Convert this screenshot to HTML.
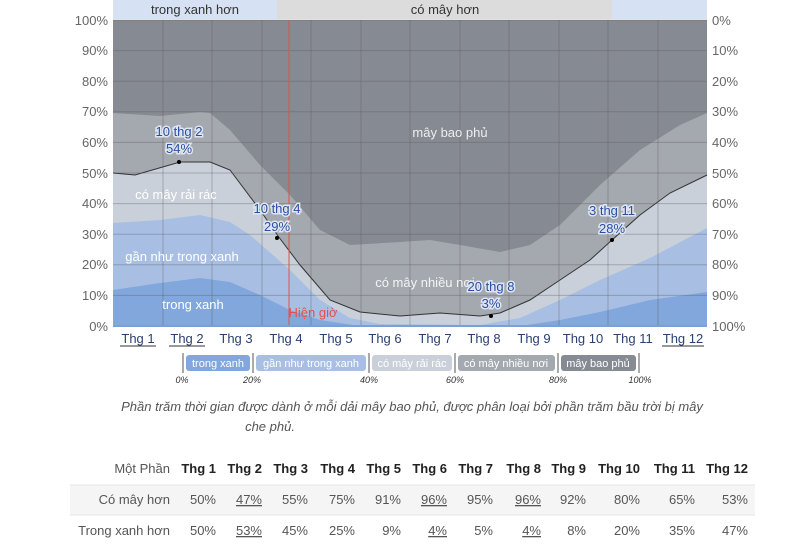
<!DOCTYPE html>
<html><head><meta charset="utf-8"><style>
body{margin:0;background:#fff;width:800px;height:550px;overflow:hidden}
text{font-family:"Liberation Sans",sans-serif}
</style></head><body>
<svg width="800" height="550" viewBox="0 0 800 550" xmlns="http://www.w3.org/2000/svg">
<!-- top band -->
<rect x="113" y="0" width="164" height="19" fill="#d6e2f3"/>
<rect x="277" y="0" width="335" height="19" fill="#dcdcdc"/>
<rect x="612" y="0" width="95" height="19" fill="#d6e2f3"/>
<text x="195" y="14" font-size="13" text-anchor="middle" fill="#333">trong xanh hơn</text>
<text x="445" y="14" font-size="13" text-anchor="middle" fill="#333">có mây hơn</text>
<!-- layers -->
<rect x="113" y="20" width="594" height="306" fill="#868a92"/>
<polygon fill="#a4a8af" points="113,113 160,116 200,112 210,113 230,130 260,165 290,195 320,230 350,245 400,242 430,240 460,245 500,252 530,245 560,225 600,185 640,150 680,125 707,113 707,326 113,326"/>
<polygon fill="#c9d0da" points="113,173 135,175 180,162 210,162 230,170 260,210 278,236 300,265 330,300 360,312 400,316 440,313 480,316 500,313 530,300 560,280 590,260 612,240 640,215 670,193 707,175 707,326 113,326"/>
<polygon fill="#a8bfe3" points="113,223 160,220 200,215 230,222 250,235 290,270 320,300 350,318 380,324 480,325 520,318 560,300 600,280 650,258 707,228 707,326 113,326"/>
<polygon fill="#82a7dc" points="113,290 160,283 200,278 230,282 260,295 290,310 320,320 360,326 520,326 560,320 600,312 650,300 707,292 707,326 113,326"/>
<polyline fill="none" stroke="#333" stroke-width="1" points="113,173 135,175 180,162 210,162 230,170 260,210 278,236 300,265 330,300 360,312 400,316 440,313 480,316 500,313 530,300 560,280 590,260 612,240 640,215 670,193 707,175"/>
<!-- grid -->
<g stroke="#555" stroke-opacity="0.35" stroke-width="1">
<line x1="113" y1="20" x2="707" y2="20"/><line x1="113" y1="50.6" x2="707" y2="50.6"/><line x1="113" y1="81.2" x2="707" y2="81.2"/><line x1="113" y1="111.8" x2="707" y2="111.8"/><line x1="113" y1="142.4" x2="707" y2="142.4"/><line x1="113" y1="173" x2="707" y2="173"/><line x1="113" y1="203.6" x2="707" y2="203.6"/><line x1="113" y1="234.2" x2="707" y2="234.2"/><line x1="113" y1="264.8" x2="707" y2="264.8"/><line x1="113" y1="295.4" x2="707" y2="295.4"/>
<line x1="163" y1="20" x2="163" y2="326"/><line x1="212" y1="20" x2="212" y2="326"/><line x1="262" y1="20" x2="262" y2="326"/><line x1="311" y1="20" x2="311" y2="326"/><line x1="361" y1="20" x2="361" y2="326"/><line x1="410" y1="20" x2="410" y2="326"/><line x1="460" y1="20" x2="460" y2="326"/><line x1="509" y1="20" x2="509" y2="326"/><line x1="559" y1="20" x2="559" y2="326"/><line x1="608" y1="20" x2="608" y2="326"/><line x1="658" y1="20" x2="658" y2="326"/>
</g>
<line x1="289" y1="20" x2="289" y2="326" stroke="#e05050" stroke-width="1"/>
<line x1="113" y1="326" x2="707" y2="326" stroke="#7aa0d8" stroke-width="2"/>
<!-- y labels -->
<g font-size="13" fill="#666" text-anchor="end">
<text x="108" y="25">100%</text><text x="108" y="55">90%</text><text x="108" y="86">80%</text><text x="108" y="116">70%</text><text x="108" y="147">60%</text><text x="108" y="178">50%</text><text x="108" y="208">40%</text><text x="108" y="239">30%</text><text x="108" y="269">20%</text><text x="108" y="300">10%</text><text x="108" y="331">0%</text>
</g>
<g font-size="13" fill="#666">
<text x="712" y="25">0%</text><text x="712" y="55">10%</text><text x="712" y="86">20%</text><text x="712" y="116">30%</text><text x="712" y="147">40%</text><text x="712" y="178">50%</text><text x="712" y="208">60%</text><text x="712" y="239">70%</text><text x="712" y="269">80%</text><text x="712" y="300">90%</text><text x="712" y="331">100%</text>
</g>
<!-- region labels -->
<g font-size="13" fill="#fff" text-anchor="middle">
<text x="450" y="137" fill="#eee">mây bao phủ</text>
<text x="176" y="199">có mây rải rác</text>
<text x="182" y="261">gần như trong xanh</text>
<text x="193" y="309">trong xanh</text>
<text x="425" y="287" fill="#f4f4f4">có mây nhiều nơi</text>
</g>
<text x="313" y="317" font-size="13" fill="#e05050" text-anchor="middle">Hiện giờ</text>
<!-- annotations -->
<g font-size="13" fill="#2a4fa0" text-anchor="middle" stroke="#dfe6f2" stroke-width="3" paint-order="stroke">
<text x="179" y="136">10 thg 2</text><text x="179" y="153">54%</text>
<text x="277" y="213">10 thg 4</text><text x="277" y="231">29%</text>
<text x="491" y="291">20 thg 8</text><text x="491" y="308">3%</text>
<text x="612" y="215">3 thg 11</text><text x="612" y="233">28%</text>
</g>
<circle cx="179" cy="162" r="2" fill="#000"/><circle cx="277" cy="238" r="2" fill="#000"/><circle cx="491" cy="316" r="2" fill="#000"/><circle cx="612" cy="240" r="2" fill="#000"/>
<!-- x labels -->
<g font-size="13" fill="#2a3f70" text-anchor="middle">
<text x="138" y="343">Thg 1</text><text x="187" y="343">Thg 2</text><text x="236" y="343">Thg 3</text><text x="286" y="343">Thg 4</text><text x="336" y="343">Thg 5</text><text x="385" y="343">Thg 6</text><text x="435" y="343">Thg 7</text><text x="484" y="343">Thg 8</text><text x="534" y="343">Thg 9</text><text x="583" y="343">Thg 10</text><text x="633" y="343">Thg 11</text><text x="683" y="343">Thg 12</text>
</g>
<g stroke="#333" stroke-width="1"><line x1="120" y1="346" x2="156" y2="346"/><line x1="169" y1="346" x2="205" y2="346"/><line x1="662" y1="346" x2="704" y2="346"/></g>
<!-- legend -->
<g stroke="#555" stroke-width="1"><line x1="183" y1="353" x2="183" y2="373"/><line x1="253" y1="353" x2="253" y2="373"/><line x1="369" y1="353" x2="369" y2="373"/><line x1="455" y1="353" x2="455" y2="373"/><line x1="558" y1="353" x2="558" y2="373"/><line x1="639" y1="353" x2="639" y2="373"/></g>
<rect x="186" y="355" width="64" height="16" rx="3" fill="#82a7dc"/>
<rect x="256" y="355" width="110" height="16" rx="3" fill="#a8bfe3"/>
<rect x="372" y="355" width="80" height="16" rx="3" fill="#c9d0da"/>
<rect x="458" y="355" width="97" height="16" rx="3" fill="#a4a8af"/>
<rect x="561" y="355" width="75" height="16" rx="3" fill="#868a92"/>
<g font-size="11" fill="#fff" text-anchor="middle">
<text x="218" y="367">trong xanh</text><text x="311" y="367">gần như trong xanh</text><text x="412" y="367">có mây rải rác</text><text x="506" y="367">có mây nhiều nơi</text><text x="598" y="367">mây bao phủ</text>
</g>
<g font-size="9" fill="#333" font-style="italic" text-anchor="middle">
<text x="182" y="383">0%</text><text x="252" y="383">20%</text><text x="369" y="383">40%</text><text x="455" y="383">60%</text><text x="558" y="383">80%</text><text x="640" y="383">100%</text>
</g>
<g font-size="13" fill="#555" font-style="italic" text-anchor="middle">
<text x="412" y="411">Phần trăm thời gian được dành ở mỗi dải mây bao phủ, được phân loại bởi phần trăm bầu trời bị mây</text>
<text x="270" y="431">che phủ.</text>
</g>
<!-- table -->
<rect x="70" y="485" width="685" height="30" fill="#f5f5f5"/>
<line x1="70" y1="485" x2="755" y2="485" stroke="#e6e6e6"/><line x1="70" y1="515" x2="755" y2="515" stroke="#e6e6e6"/>
<g font-size="13" fill="#555" text-anchor="end">
<text x="170" y="473">Một Phần</text><text x="170" y="504">Có mây hơn</text><text x="170" y="535">Trong xanh hơn</text>
</g>
<g font-size="13" fill="#222" font-weight="bold" text-anchor="end">
<text x="216" y="473">Thg 1</text><text x="262" y="473">Thg 2</text><text x="308" y="473">Thg 3</text><text x="355" y="473">Thg 4</text><text x="401" y="473">Thg 5</text><text x="447" y="473">Thg 6</text><text x="493" y="473">Thg 7</text><text x="541" y="473">Thg 8</text><text x="586" y="473">Thg 9</text><text x="640" y="473">Thg 10</text><text x="695" y="473">Thg 11</text><text x="748" y="473">Thg 12</text>
</g>
<g font-size="13" fill="#555" text-anchor="end">
<text x="216" y="504">50%</text><text x="262" y="504" text-decoration="underline">47%</text><text x="308" y="504">55%</text><text x="355" y="504">75%</text><text x="401" y="504">91%</text><text x="447" y="504" text-decoration="underline">96%</text><text x="493" y="504">95%</text><text x="541" y="504" text-decoration="underline">96%</text><text x="586" y="504">92%</text><text x="640" y="504">80%</text><text x="695" y="504">65%</text><text x="748" y="504">53%</text>
<text x="216" y="535">50%</text><text x="262" y="535" text-decoration="underline">53%</text><text x="308" y="535">45%</text><text x="355" y="535">25%</text><text x="401" y="535">9%</text><text x="447" y="535" text-decoration="underline">4%</text><text x="493" y="535">5%</text><text x="541" y="535" text-decoration="underline">4%</text><text x="586" y="535">8%</text><text x="640" y="535">20%</text><text x="695" y="535">35%</text><text x="748" y="535">47%</text>
</g>
</svg>
</body></html>
